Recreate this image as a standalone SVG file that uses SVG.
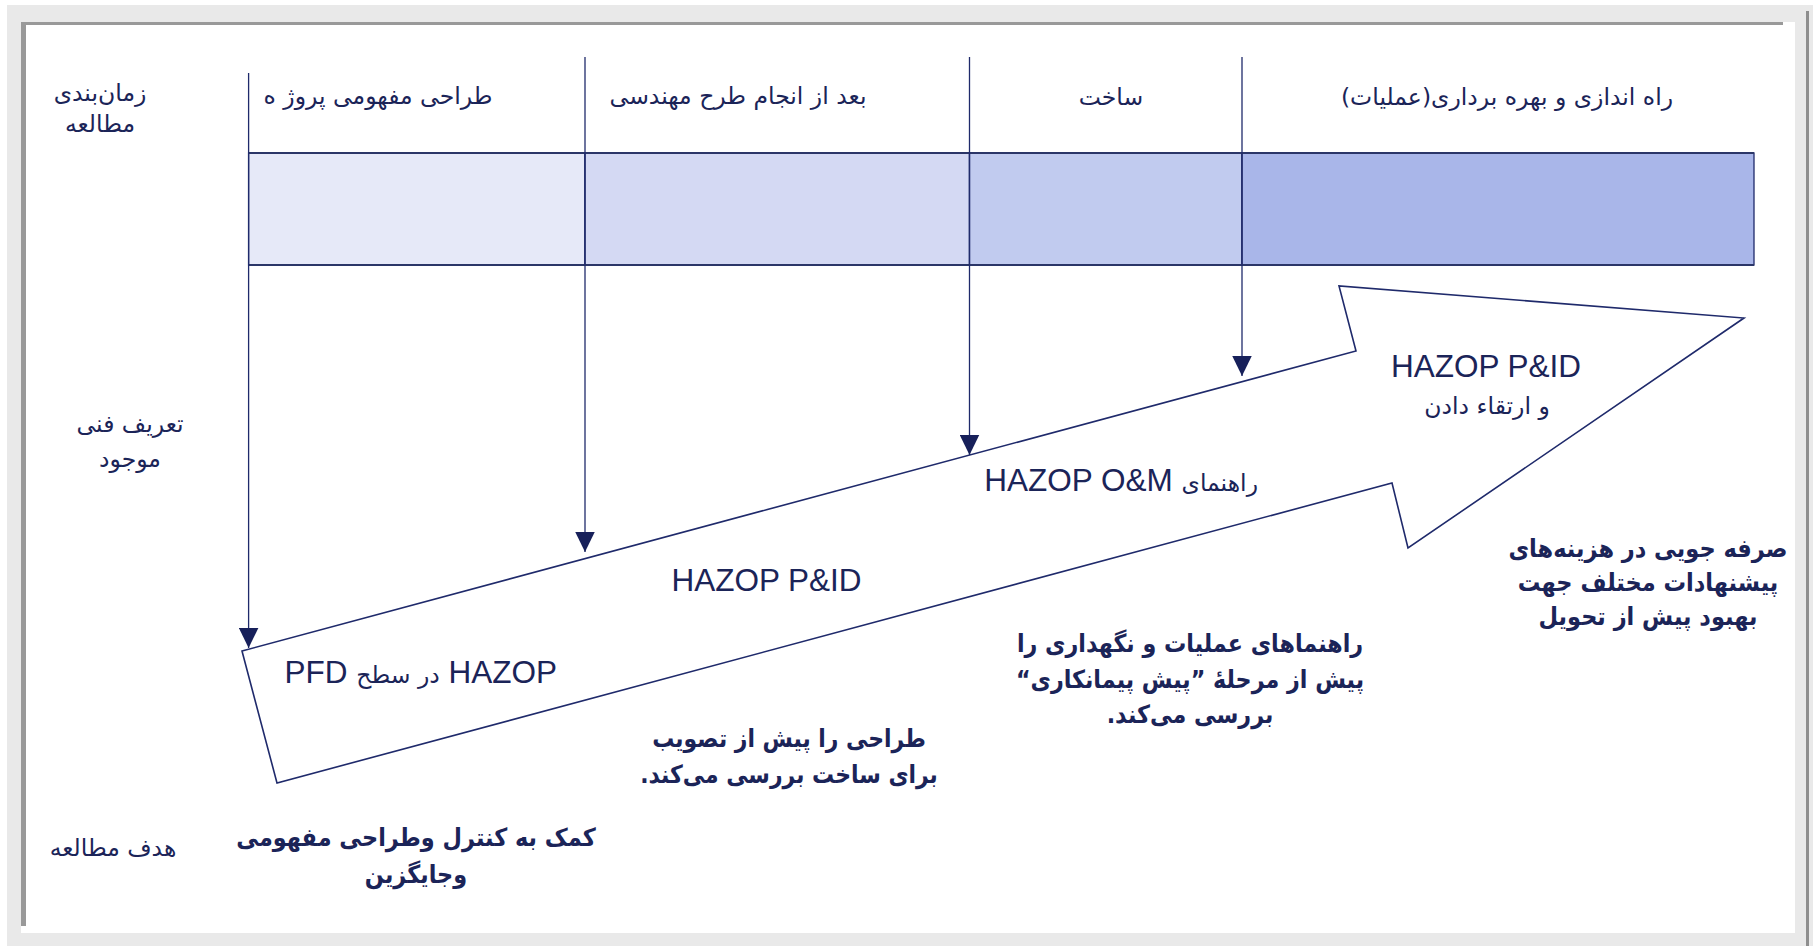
<svg xmlns="http://www.w3.org/2000/svg" width="1813" height="946" viewBox="0 0 1813 946">
<style>
.fa{font-family:"DejaVu Sans",sans-serif;fill:#1b2458;direction:rtl}
.r{font-size:23.5px}
.b{font-size:25px;font-weight:bold}
.faf{font-family:"DejaVu Sans",sans-serif;font-size:23.5px}
.lat{font-family:"Liberation Sans",Arial,sans-serif;font-size:31.5px;fill:#1b2458}
.vl{stroke:#1f2a6b;stroke-width:1.3;fill:none}
.seg{stroke:#1f2a6b;stroke-width:1.3}
</style>
<defs>
<marker id="ah" markerUnits="userSpaceOnUse" markerWidth="20" markerHeight="20" refX="20" refY="9.75" orient="auto" viewBox="0 0 20 19.5">
<path d="M0,0 L20,9.75 L0,19.5 z" fill="#17205a"/>
</marker>
</defs>
<rect x="0" y="0" width="1813" height="946" fill="#ffffff"/>
<rect x="7" y="5" width="1806" height="941" fill="#e9e9e9"/>
<rect x="1806" y="11" width="3" height="935" fill="#8e8e8e"/>
<rect x="21" y="22" width="1774" height="911" fill="#ffffff"/>
<rect x="21" y="22" width="1762" height="3" fill="#999999"/>
<rect x="21" y="22" width="5" height="904" fill="#999999"/>

<g id="band">
<rect class="seg" x="248.6" y="153" width="336.4" height="112" fill="#e6e9f8"/>
<rect class="seg" x="585" y="153" width="384.5" height="112" fill="#d4d9f3"/>
<rect class="seg" x="969.5" y="153" width="272.5" height="112" fill="#c1cbef"/>
<rect class="seg" x="1242" y="153" width="512" height="112" fill="#a9b6e9"/>
<line x1="248.6" y1="153" x2="1754" y2="153" stroke="#2b3668" stroke-width="2"/>
<line x1="248.6" y1="265" x2="1754" y2="265" stroke="#2b3668" stroke-width="2"/>
</g>

<g id="headers">
<text class="fa r" x="378" y="104" text-anchor="middle">طراحی مفهومی پروژ ه</text>
<text class="fa r" x="738" y="104" text-anchor="middle">بعد از انجام طرح مهندسی</text>
<text class="fa r" x="1111" y="105" text-anchor="middle">ساخت</text>
<text class="fa r" x="1507" y="105" text-anchor="middle">راه اندازی و بهره برداری(عملیات)</text>
</g>

<g id="row-labels">
<text class="fa r" text-anchor="middle"><tspan x="100" y="101">زمان‌بندی</tspan><tspan x="100" y="132">مطالعه</tspan></text>
<text class="fa r" text-anchor="middle"><tspan x="130" y="432">تعریف فنی</tspan><tspan x="130" y="467">موجود</tspan></text>
<text class="fa r" x="113" y="856" text-anchor="middle">هدف مطالعه</text>
</g>

<g id="big-arrow">
<polygon points="242,651 1356,351 1339,286 1744,318 1408,548 1392,483 277,783" fill="#ffffff" stroke="#1f2a6b" stroke-width="1.6" stroke-linejoin="miter"/>
</g>

<g id="connectors">
<line class="vl" x1="248.6" y1="73" x2="248.6" y2="648" marker-end="url(#ah)"/>
<line class="vl" x1="585" y1="57" x2="585" y2="552" marker-end="url(#ah)"/>
<line class="vl" x1="969.5" y1="57" x2="969.5" y2="455" marker-end="url(#ah)"/>
<line class="vl" x1="1242" y1="57" x2="1242" y2="376" marker-end="url(#ah)"/>
</g>

<g id="arrow-labels">
<text class="lat" x="766.5" y="590.5" text-anchor="middle">HAZOP P&amp;ID</text>
<text class="lat" x="1486" y="376.5" text-anchor="middle">HAZOP P&amp;ID</text>
<text class="fa r" x="1487" y="414" text-anchor="middle">و ارتقاء دادن</text>
<text class="lat" x="1258" y="490.5" direction="rtl" text-anchor="start"><tspan class="faf">راهنمای</tspan> HAZOP O&amp;M</text>
<text class="lat" x="557" y="683" direction="rtl" text-anchor="start">HAZOP <tspan class="faf">در سطح</tspan> PFD</text>
</g>

<g id="goals">
<g transform="translate(789 0) scale(0.877 1) translate(-789 0)">
<text class="fa b" text-anchor="middle"><tspan x="789" y="747">طراحی را پیش از تصویب</tspan><tspan x="789" y="783">برای ساخت بررسی می‌کند.</tspan></text>
</g>
<g transform="translate(1190 0) scale(0.89 1) translate(-1190 0)">
<text class="fa b" text-anchor="middle"><tspan x="1190" y="652">راهنماهای عملیات و نگهداری را</tspan><tspan x="1190" y="688">پیش از مرحلهٔ ”پیش پیمانکاری“</tspan><tspan x="1190" y="723">بررسی می‌کند.</tspan></text>
</g>
<g transform="translate(1648 0) scale(0.9 1) translate(-1648 0)">
<text class="fa b" text-anchor="middle"><tspan x="1648" y="557">صرفه جویی در هزینه‌های</tspan><tspan x="1648" y="591">پیشنهادات مختلف جهت</tspan><tspan x="1648" y="625">بهبود پیش از تحویل</tspan></text>
</g>
<g transform="translate(416 0) scale(0.896 1) translate(-416 0)">
<text class="fa b" text-anchor="middle"><tspan x="416" y="846">کمک به کنترل وطراحی  مفهومی</tspan><tspan x="416" y="883">وجایگزین</tspan></text>
</g>
</g>
</svg>
